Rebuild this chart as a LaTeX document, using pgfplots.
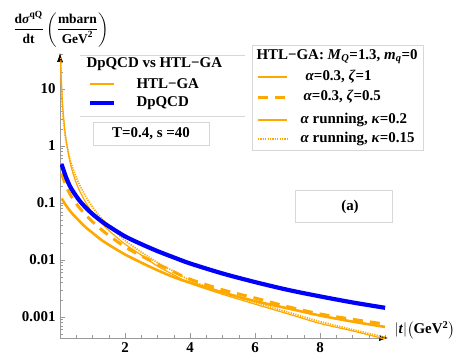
\documentclass[border=0pt]{standalone}
\usepackage{pgfplots}
\pgfplotsset{compat=1.18}
\usepackage{amsmath}
\usepackage{fontspec}
\setmainfont{Liberation Serif}
\usetikzlibrary{arrows.meta}
\definecolor{mmaorange}{RGB}{255,168,0}
\definecolor{mmablue}{RGB}{0,0,255}
\definecolor{framegray}{RGB}{215,215,215}

% HTL-GA, alpha=0.3, zeta=1
\pgfplotstableread{
t v
0.05 0.12
0.1 0.108
0.2 0.088
0.3 0.074
0.4 0.063
0.6 0.048
0.8 0.037
1.0 0.030
1.25 0.023
1.5 0.0185
2.0 0.0125
2.5 0.0090
3.0 0.0066
3.5 0.0050
4.0 0.0040
5.0 0.0027
6.0 0.0019
7.0 0.00142
8.0 0.00106
9.0 0.00083
10.0 0.00067
}\zetaone

% HTL-GA, alpha=0.3, zeta=0.5
\pgfplotstableread{
t v
0.05 0.33
0.1 0.27
0.2 0.19
0.3 0.145
0.46 0.105
0.6 0.082
0.8 0.061
1.0 0.047
1.25 0.035
1.5 0.027
2.0 0.017
2.5 0.0118
3.0 0.0085
3.5 0.0062
4.0 0.0046
5.0 0.0030
6.0 0.00215
7.0 0.00152
8.0 0.00113
9.0 0.00091
10.0 0.00075
}\zetahalf

% alpha running, kappa=0.2
\pgfplotstableread{
t v
0.02 30
0.03 20
0.05 10.5
0.075 6.0
0.1 3.8
0.15 1.9
0.2 1.15
0.3 0.55
0.4 0.33
0.5 0.225
0.6 0.165
0.8 0.10
1.0 0.068
1.25 0.046
1.5 0.033
2.0 0.019
2.5 0.0122
3.0 0.0078
3.5 0.0055
4.0 0.0039
5.0 0.0025
6.0 0.00168
7.0 0.00114
8.0 0.00077
9.0 0.00057
10.0 0.00041
}\kappatwo

% alpha running, kappa=0.15
\pgfplotstableread{
t v
0.02 35
0.03 20
0.05 8.5
0.075 4.6
0.1 3.0
0.15 1.65
0.2 1.1
0.3 0.60
0.4 0.40
0.5 0.28
0.6 0.21
0.8 0.128
1.0 0.085
1.25 0.056
1.5 0.040
2.0 0.022
2.5 0.0138
3.0 0.0090
3.5 0.0063
4.0 0.0044
5.0 0.0027
6.0 0.00180
7.0 0.00122
8.0 0.00083
9.0 0.00060
10.0 0.00044
}\kappaone

% DpQCD
\pgfplotstableread{
t v
0.05 0.48
0.1 0.39
0.2 0.27
0.3 0.20
0.4 0.16
0.6 0.11
0.8 0.082
1.0 0.064
1.25 0.049
1.5 0.039
2.0 0.026
2.5 0.019
3.0 0.0143
3.5 0.0111
4.0 0.0087
5.0 0.0058
6.0 0.0041
7.0 0.0030
8.0 0.0023
9.0 0.0018
10.0 0.00145
}\dpqcd

\begin{document}
\begin{tikzpicture}[x=1bp,y=1bp]
\useasboundingbox (0,0) rectangle (463,360);
\begin{axis}[
  at={(60bp,22bp)}, anchor=south west,
  scale only axis, width=328bp, height=285bp,
  ymode=log,
  xmin=0, xmax=10.09, ymin=0.000428, ymax=42.8,
  axis lines*=left,
  axis line style={gray!80, line width=0.6bp, -{Latex[black,length=9bp,width=6bp]}},
  tick align=inside,
  major tick length=5bp, minor tick length=3bp,
  tick style={gray!80, line width=0.5bp},
  xtick={2,4,6,8}, xticklabels={2,4,6,8},
  minor xtick={0,0.5,...,10},
  ytick={0.001,0.01,0.1,1,10}, yticklabels={0.001,0.01,0.1,1,10},
  minor ytick={0.0005,0.0006,0.0007,0.0008,0.0009,
    0.002,0.003,0.004,0.005,0.006,0.007,0.008,0.009,
    0.02,0.03,0.04,0.05,0.06,0.07,0.08,0.09,
    0.2,0.3,0.4,0.5,0.6,0.7,0.8,0.9,
    2,3,4,5,6,7,8,9,20,30,40},
  ticklabel style={font=\bfseries\fontsize{15}{15}\selectfont},
  yticklabel style={xshift=-1bp},
  xticklabel style={yshift=-1bp},
]
  \addplot[mmaorange, line width=2.6bp, smooth] table[x=t, y=v] {\zetaone};
  \addplot[mmaorange, line width=3bp, smooth, dash pattern=on 10bp off 7bp] table[x=t, y=v] {\zetahalf};
  \addplot[mmaorange, line width=1.2bp, smooth] table[x=t, y=v] {\kappatwo};
  \addplot[mmaorange, line width=1.8bp, smooth, dash pattern=on 1.2bp off 1.2bp] table[x=t, y=v] {\kappaone};
  \addplot[mmablue, line width=4.2bp, smooth] table[x=t, y=v] {\dpqcd};
\end{axis}

% axis labels
\node[font=\bfseries\fontsize{13.5}{16}\selectfont, inner sep=0pt] at (61,331)
  {$\dfrac{\textbf{d\textit{σ}}^{\textbf{qQ}}}{\textbf{dt}}\left(\dfrac{\textbf{mbarn}}{\textbf{GeV}^{\textbf{2}}}\right)$};
\node[anchor=west, font=\bfseries\fontsize{15}{17}\selectfont] at (391,30)
  {$|\textbf{\textit{t}}|\big(\textbf{GeV}^{\textbf{2}}\big)$};

% first legend
\begin{scope}[font=\bfseries\fontsize{15}{17}\selectfont]
  \draw[framegray, line width=0.6bp] (80,305) -- (245,305);
  \draw[framegray, line width=0.6bp] (80,244) -- (245,244);
  \node[anchor=west] at (83,296) {DpQCD vs HTL−GA};
  \draw[mmaorange, line width=1.5bp] (90,276) -- (114,276);
  \node[anchor=west] at (133,276) {HTL−GA};
  \draw[mmablue, line width=4bp] (90,257) -- (114,257);
  \node[anchor=west] at (133,257) {DpQCD};

  \draw[framegray, line width=0.6bp] (93,215) rectangle (209,238);
  \node at (151,226.5) {T=0.4, s =40};

  % second legend
  \draw[framegray, line width=0.6bp] (252,210) rectangle (423,315);
  \node at (337,303) {HTL−GA: \textit{M}\textsubscript{\textit{Q}}=1.3, \textit{m}\textsubscript{\textit{q}}=0};
  \draw[mmaorange, line width=2.6bp] (258,283) -- (287,283);
  \node[anchor=west] at (302,283) {\textit{α}=0.3, \textit{ζ}=1};
  \draw[mmaorange, line width=3bp, dash pattern=on 10bp off 7bp] (258,263) -- (287,263);
  \node[anchor=west] at (300,263) {\textit{α}=0.3, \textit{ζ}=0.5};
  \draw[mmaorange, line width=1.2bp] (258,240) -- (287,240);
  \node[anchor=west] at (297,240) {\textit{α} running, \textit{κ}=0.2};
  \draw[mmaorange, line width=1.5bp, dash pattern=on 1.2bp off 1.2bp] (258,221) -- (287,221);
  \node[anchor=west] at (297,221) {\textit{α} running, \textit{κ}=0.15};

  % panel tag
  \draw[framegray, line width=0.6bp] (295,138) rectangle (392,170);
  \node at (350,153) {(a)};
\end{scope}
\end{tikzpicture}
\end{document}
